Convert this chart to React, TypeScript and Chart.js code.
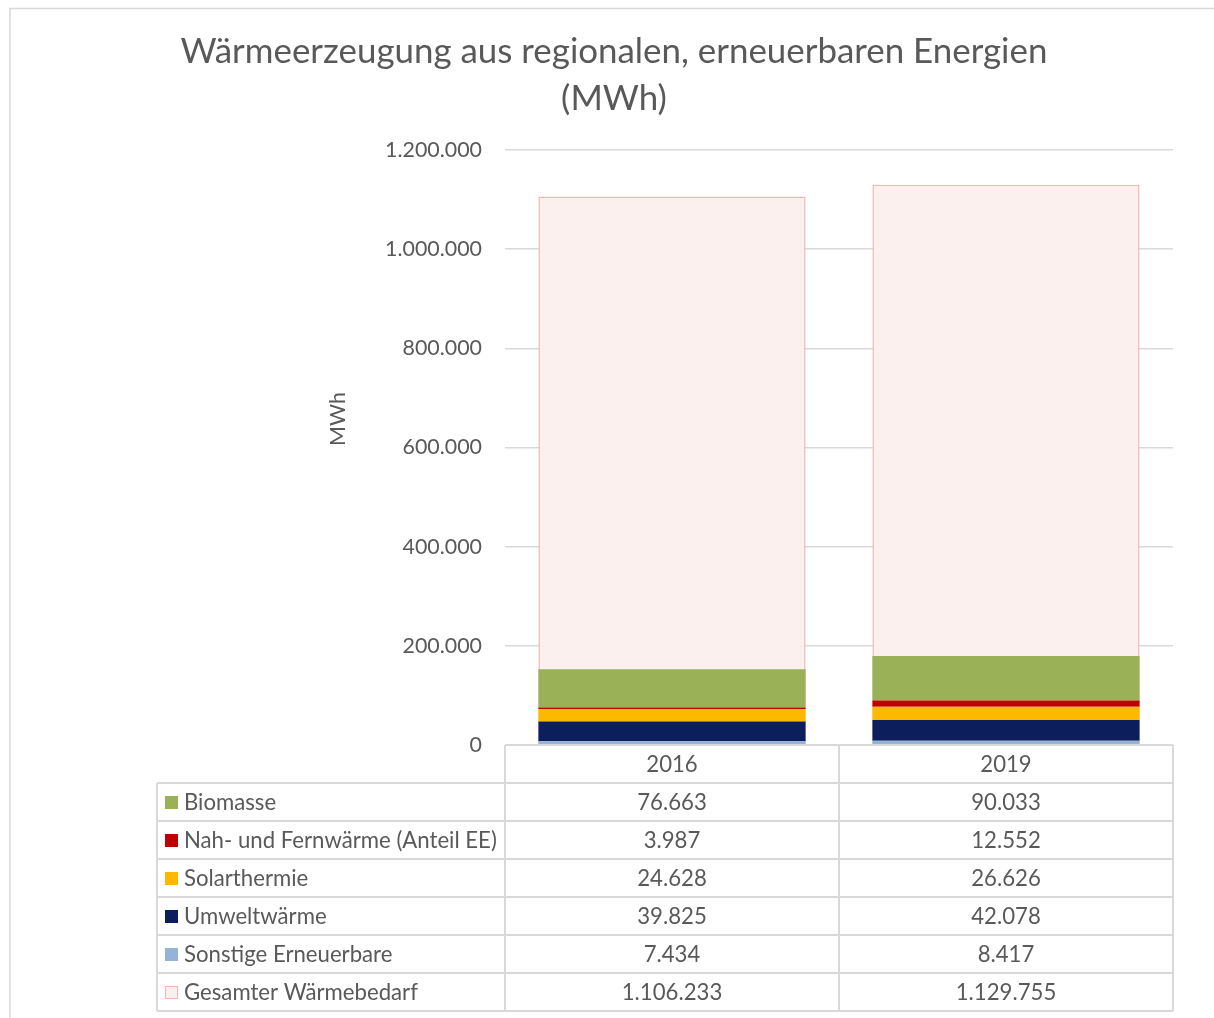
import React, { useEffect, useRef } from "react";
import { Chart, registerables } from "chart.js";

Chart.register(...registerables);

// ---------- data ----------
const titleLines = ["Wärmeerzeugung aus regionalen, erneuerbaren Energien", "(MWh)"];
const yAxisTitle = "MWh";
const categories = ["2016", "2019"];
const biomasse = [76663, 90033];
const nahFernwaerme = [3987, 12552];
const solarthermie = [24628, 26626];
const umweltwaerme = [39825, 42078];
const sonstige = [7434, 8417];
const gesamt = [1106233, 1129755];
const yMin = 0;
const yMax = 1200000;
const yStep = 200000;

// table rows in display order (top to bottom)
const tableLabels = [
  "Biomasse",
  "Nah- und Fernwärme (Anteil EE)",
  "Solarthermie",
  "Umweltwärme",
  "Sonstige Erneuerbare",
  "Gesamter Wärmebedarf",
];
const tableValues = [biomasse, nahFernwaerme, solarthermie, umweltwaerme, sonstige, gesamt];
const tableColors = ["#9bb157", "#c00000", "#fdb900", "#0c1f5c", "#95b3d7", "#fcf0ef"];
const totalBorder = "#f4b5b5";

const FONT = "Lato, 'Open Sans', sans-serif";
const TEXT = "#595959";
const LINE = "#d9d9d9";

function fmt(v: number): string {
  const s = Math.round(v).toString();
  return s.replace(/\B(?=(\d{3})+(?!\d))/g, ".");
}

function fitSize(text: string, target: number): number {
  const c = document.createElement("canvas").getContext("2d")!;
  c.font = `100px ${FONT}`;
  const w = c.measureText(text).width;
  return (100 * target) / w;
}

export default function App() {
  const ref = useRef<HTMLCanvasElement | null>(null);

  useEffect(() => {
    const canvas = ref.current!;
    const titleSize = fitSize(titleLines[0], 867);
    const tickSize = fitSize("1.200.000", 97);
    const tableSize = fitSize(tableLabels[1], 313);

    const tableLeft = 157;
    const rowH = 38;

    const overlay = {
      id: "overlay",
      beforeDraw(chart: any) {
        const ctx = chart.ctx;
        ctx.save();
        ctx.fillStyle = "#ffffff";
        ctx.fillRect(0, 0, chart.width, chart.height);
        ctx.strokeStyle = LINE;
        ctx.lineWidth = 1.5;
        ctx.strokeRect(10, 8.5, chart.width + 20, chart.height + 20);
        ctx.restore();
      },
      afterDraw(chart: any) {
        const ctx = chart.ctx;
        const area = chart.chartArea;
        const xs = chart.scales.x;
        ctx.save();
        // title
        ctx.fillStyle = TEXT;
        ctx.textAlign = "center";
        ctx.textBaseline = "middle";
        ctx.font = `${titleSize}px ${FONT}`;
        const cx = chart.width / 2 + 7;
        ctx.fillText(titleLines[0], cx, 52);
        ctx.fillText(titleLines[1], cx, 99);
        // y-axis title
        ctx.save();
        ctx.translate(338, 419);
        ctx.rotate(-Math.PI / 2);
        ctx.font = `${tickSize}px ${FONT}`;
        ctx.fillText(yAxisTitle, 0, 0);
        ctx.restore();

        // data table
        const c0 = xs.getPixelForValue(0);
        const c1 = xs.getPixelForValue(1);
        const colW = c1 - c0;
        const bounds = [area.left];
        for (let i = 0; i < categories.length; i++) bounds.push(xs.getPixelForValue(i) + colW / 2);
        const top = area.bottom;
        const nRows = tableLabels.length;
        const bottom = top + rowH * (nRows + 1);

        ctx.strokeStyle = LINE;
        ctx.lineWidth = 2;
        ctx.beginPath();
        ctx.moveTo(area.left, top);
        ctx.lineTo(bounds[bounds.length - 1], top);
        for (let r = 1; r <= nRows + 1; r++) {
          const y = top + r * rowH;
          ctx.moveTo(tableLeft, y);
          ctx.lineTo(bounds[bounds.length - 1], y);
        }
        ctx.moveTo(tableLeft, top + rowH);
        ctx.lineTo(tableLeft, bottom);
        for (const b of bounds) {
          ctx.moveTo(b, top);
          ctx.lineTo(b, bottom);
        }
        ctx.stroke();

        ctx.font = `${tableSize}px ${FONT}`;
        ctx.fillStyle = TEXT;
        ctx.textBaseline = "middle";
        ctx.textAlign = "center";
        categories.forEach((cat, i) => {
          ctx.fillText(cat, xs.getPixelForValue(i), top + rowH / 2 + 1);
        });
        tableLabels.forEach((lab, r) => {
          const yc = top + rowH * (r + 1) + rowH / 2 + 1;
          // swatch
          const isTotal = r === nRows - 1;
          ctx.fillStyle = tableColors[r];
          ctx.fillRect(165, yc - 7, 13, 13);
          if (isTotal) {
            ctx.strokeStyle = totalBorder;
            ctx.lineWidth = 1;
            ctx.strokeRect(165.5, yc - 6.5, 12, 12);
          }
          ctx.fillStyle = TEXT;
          ctx.textAlign = "left";
          ctx.fillText(lab, 184, yc);
          ctx.textAlign = "center";
          tableValues[r].forEach((v, i) => {
            ctx.fillText(fmt(v), xs.getPixelForValue(i), yc);
          });
        });
        ctx.restore();
      },
    };

    const mk = (label: string, data: number[], color: string) => ({
      label,
      data,
      backgroundColor: color,
      borderWidth: 0,
      stack: "ee",
      order: 0,
      barPercentage: 0.8,
      categoryPercentage: 1,
    });

    const chart = new Chart(canvas, {
      type: "bar",
      data: {
        labels: categories,
        datasets: [
          mk(tableLabels[4], sonstige, tableColors[4]),
          mk(tableLabels[3], umweltwaerme, tableColors[3]),
          mk(tableLabels[2], solarthermie, tableColors[2]),
          mk(tableLabels[1], nahFernwaerme, tableColors[1]),
          mk(tableLabels[0], biomasse, tableColors[0]),
          {
            label: tableLabels[5],
            data: gesamt,
            backgroundColor: tableColors[5],
            borderColor: totalBorder,
            borderWidth: 1.5,
            stack: "total",
            order: 10,
            grouped: false,
            barPercentage: 0.8,
            categoryPercentage: 1,
          } as any,
        ],
      },
      options: {
        animation: false,
        responsive: false,
        devicePixelRatio: 1,
        layout: { padding: { left: 0, top: 150, right: 41, bottom: 273 } },
        plugins: {
          legend: { display: false },
          title: { display: false },
          tooltip: { enabled: false },
        },
        scales: {
          x: { display: false, stacked: true },
          y: {
            stacked: true,
            min: yMin,
            max: yMax,
            border: { display: false },
            grid: { color: LINE, lineWidth: 1.5, drawTicks: false },
            ticks: {
              stepSize: yStep,
              color: TEXT,
              padding: 23,
              font: { family: FONT, size: tickSize },
              callback: (v: any) => fmt(Number(v)),
            },
            afterFit: (s: any) => {
              s.width = 505;
            },
          },
        },
      },
      plugins: [overlay],
    });
    return () => chart.destroy();
  }, []);

  return (
    <div style={{ position: "absolute", left: 0, top: 0, width: 1214, height: 1018 }}>
      <canvas ref={ref} width={1214} height={1018} />
    </div>
  );
}
